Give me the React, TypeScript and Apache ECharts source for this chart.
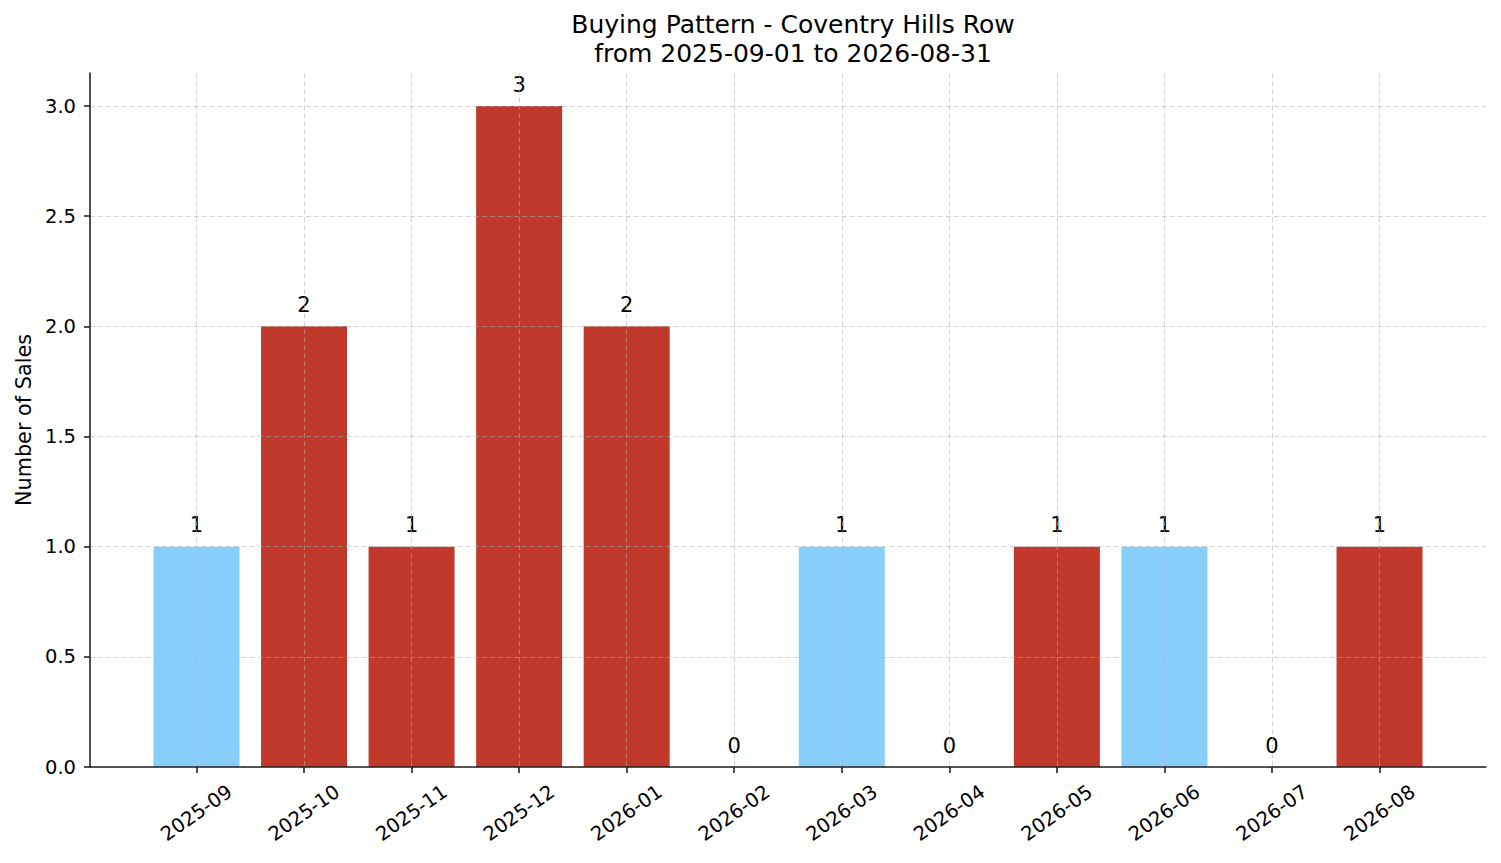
import React, { useEffect, useRef } from 'react';
import * as echarts from 'echarts';

// monthly sales counts
const months = [
    '2025-09', '2025-10', '2025-11', '2025-12', '2026-01', '2026-02',
    '2026-03', '2026-04', '2026-05', '2026-06', '2026-07', '2026-08'
];
const sales = [1, 2, 1, 3, 2, 0, 1, 0, 1, 1, 0, 1];
// months drawn in the lighter colour
const lightMonths = ['2025-09', '2026-03', '2026-06'];
const yTicks = [0, 0.5, 1, 1.5, 2, 2.5, 3];

const FONT = 'DejaVu Sans';
const GRID_LINE = { type: [5, 3], color: 'rgba(176,176,176,0.55)', width: 1 };

const App: React.FC = () => {
    const chartRef = useRef<HTMLDivElement>(null);

    useEffect(() => {
        document.body.style.margin = '0';
        document.body.style.overflow = 'hidden';
        if (!chartRef.current) return;
        const myChart = echarts.init(chartRef.current, null, { renderer: 'svg' });
        const idx = months.map((_, i) => i);

        const option: any = {
            animation: false,
            textStyle: { fontFamily: FONT },
            title: {
                text: 'Buying Pattern - Coventry Hills Row\nfrom 2025-09-01 to 2026-08-31',
                left: 788,
                top: 5,
                textAlign: 'center',
                textStyle: {
                    fontFamily: FONT,
                    fontSize: 25,
                    fontWeight: 'normal',
                    color: '#000',
                    lineHeight: 29
                }
            },
            grid: { left: 90, right: 15, top: 73, bottom: 96, outerBoundsMode: 'none' },
            xAxis: {
                type: 'value',
                min: -0.99,
                max: 11.99,
                z: 3,
                axisLine: { show: true, onZero: false, lineStyle: { color: '#222', width: 1.6 } },
                axisTick: {
                    show: true,
                    customValues: idx,
                    length: 6,
                    lineStyle: { color: '#222', width: 1.6 }
                },
                axisLabel: {
                    customValues: idx,
                    rotate: 35,
                    align: 'center',
                    verticalAlign: 'middle',
                    margin: 46,
                    fontSize: 19.5,
                    color: '#000',
                    fontFamily: FONT,
                    formatter: (v: number) => months[Math.round(v)] ?? ''
                },
                splitLine: { show: true, lineStyle: GRID_LINE }
            },
            yAxis: {
                type: 'value',
                min: 0,
                max: 3.15,
                z: 3,
                name: 'Number of Sales',
                nameLocation: 'middle',
                nameGap: 56,
                nameTextStyle: { fontFamily: FONT, fontSize: 20.8, color: '#000' },
                axisLine: { show: true, onZero: false, lineStyle: { color: '#222', width: 1.6 } },
                axisTick: {
                    show: true,
                    customValues: yTicks,
                    length: 6,
                    lineStyle: { color: '#222', width: 1.6 }
                },
                axisLabel: {
                    customValues: yTicks,
                    margin: 14,
                    fontSize: 19.5,
                    color: '#000',
                    fontFamily: FONT,
                    formatter: (v: number) => v.toFixed(1)
                },
                splitLine: { show: true, lineStyle: GRID_LINE }
            },
            series: [
                {
                    type: 'bar',
                    barWidth: 86,
                    data: months.map((m, i) => ({
                        value: [i, sales[i]],
                        itemStyle: { color: lightMonths.includes(m) ? '#87CEFA' : '#C0392B' }
                    })),
                    label: {
                        show: true,
                        position: 'top',
                        distance: 11,
                        fontSize: 21,
                        color: '#000',
                        fontFamily: FONT,
                        formatter: (p: any) => String(p.value[1])
                    }
                }
            ]
        };
        myChart.setOption(option);

        return () => {
            myChart.dispose();
        };
    }, []);

    return <div ref={chartRef} style={{ width: '1501px', height: '863px' }} />;
};

export default App;
